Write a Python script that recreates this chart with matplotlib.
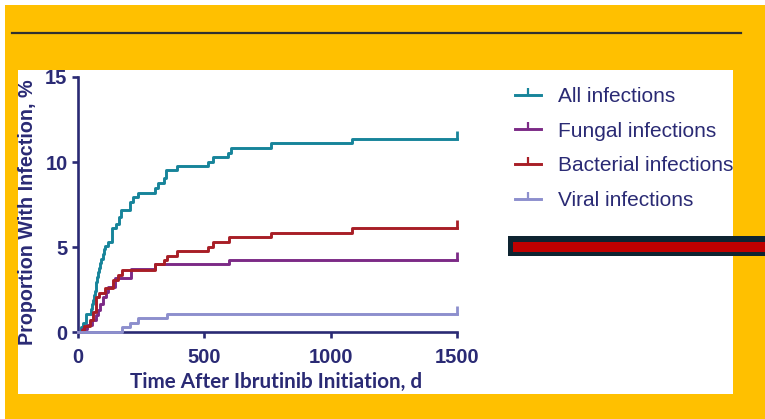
import matplotlib
matplotlib.use("Agg")
import matplotlib.pyplot as plt
from matplotlib.patches import Rectangle
from matplotlib.lines import Line2D

# ---------------- data ----------------
all_t = [0, 10, 20, 30, 50, 55, 60, 63, 66, 70, 73, 77, 80, 84, 88, 92, 97, 102, 108, 118, 135,
         151, 162, 171, 204, 217, 237, 303, 316, 342, 349, 391, 513, 533, 592, 605, 762, 1083, 1500]
all_v = [0, 0.27, 0.54, 1.04, 1.35, 1.62, 1.89, 2.16, 2.43, 2.70, 2.97, 3.24, 3.51, 3.78, 4.05, 4.32,
         4.59, 4.86, 5.05, 5.3, 6.1, 6.37, 6.76, 7.16, 7.65, 7.95, 8.2, 8.45, 8.75, 9.05, 9.5, 9.75,
         10.0, 10.3, 10.55, 10.8, 11.1, 11.35, 11.35]

fungal_t = [0, 15, 34, 54, 70, 80, 87, 98, 110, 120, 146, 210, 305, 598, 1500]
fungal_v = [0, 0.2, 0.41, 0.7, 1.0, 1.3, 1.65, 2.06, 2.35, 2.65, 3.15, 3.7, 3.98, 4.24, 4.24]

bacterial_t = [0, 15, 23, 47, 61, 70, 83, 107, 140, 160, 173, 305, 342, 351, 390, 513, 533, 599, 762, 1083, 1500]
bacterial_v = [0, 0.1, 0.35, 0.7, 1.2, 2.08, 2.3, 2.57, 3.06, 3.35, 3.67, 3.98, 4.25, 4.5, 4.76,
               5.0, 5.3, 5.6, 5.85, 6.1, 6.1]

viral_t = [0, 173, 205, 239, 351, 1500]
viral_v = [0, 0.27, 0.54, 0.81, 1.08, 1.08]

series_labels = ["All infections", "Fungal infections", "Bacterial infections", "Viral infections"]
series_colors = ["#17849a", "#7c2a86", "#a81e26", "#8d8fcd"]

x_ticks = [0, 500, 1000, 1500]
y_ticks = [0, 5, 10, 15]
x_label = "Time After Ibrutinib Initiation, d"
y_label = "Proportion With Infection, %"

NAVY = "#2a2a74"
W, H = 765, 419

fig = plt.figure(figsize=(W / 100, H / 100), dpi=100)
fig.patch.set_facecolor("white")


def rect_px(x0, y0, x1, y1, color, z):
    fig.add_artist(Rectangle((x0 / W, 1 - y1 / H), (x1 - x0) / W, (y1 - y0) / H,
                             transform=fig.transFigure, facecolor=color, edgecolor="none",
                             zorder=z))


# background decorations
rect_px(5, 5, W, H, "#ffc000", -10)
rect_px(18, 70, 733, 394, "white", -9)
fig.add_artist(Line2D([12 / W, 741 / W], [1 - 33 / H, 1 - 33 / H], transform=fig.transFigure,
                      color="#303030", lw=1.6, zorder=-8))
rect_px(508, 236, W, 256, "#0e2431", 5)
rect_px(513, 242, W, 252, "#c00000", 6)

# axes
ax = fig.add_axes([78 / W, 1 - 332 / H, 379 / W, 255 / H])
ax.set_facecolor("none")

data = [(all_t, all_v), (fungal_t, fungal_v), (bacterial_t, bacterial_v), (viral_t, viral_v)]
handles = []
for (t, v), c, lab in zip(data, series_colors, series_labels):
    ax.step(t, v, where="post", color=c, lw=2.1, clip_on=False, zorder=4)
    ax.plot([t[-1]], [v[-1]], marker=2, color=c, markersize=5.5, mew=2.0, clip_on=False, zorder=4)
    handles.append(Line2D([0, 0.5, 1], [0, 0, 0], color=c, lw=2.1, marker=2, markersize=5,
                          mew=1.6, markevery=[1], label=lab))

ax.set_xlim(0, 1500)
ax.set_ylim(0, 15)
ax.set_xticks(x_ticks)
ax.set_yticks(y_ticks)
for s in ["top", "right"]:
    ax.spines[s].set_visible(False)
for s in ["left", "bottom"]:
    ax.spines[s].set_color(NAVY)
    ax.spines[s].set_linewidth(1.9)
ax.tick_params(axis="both", colors=NAVY, width=1.9, length=4.5, labelsize=14.5)
ax.tick_params(axis="x", pad=7)
ax.tick_params(axis="y", pad=3)
for lbl in ax.get_xticklabels() + ax.get_yticklabels():
    lbl.set_fontfamily("Liberation Sans")
    lbl.set_fontweight("bold")

fig.text(28 / W, 1 - 212 / H, y_label, rotation=90, ha="center", va="center",
         fontsize=14.2, fontweight="bold", color=NAVY, family="Liberation Sans")
fig.text(276 / W, 1 - 388 / H, x_label, ha="center", va="baseline",
         fontsize=14.9, fontweight="bold", color=NAVY, family="Lato")

leg = fig.legend(handles=handles, loc="upper left", bbox_to_anchor=(515 / W, 1 - 87 / H),
                 frameon=False, prop={"family": "Liberation Sans", "size": 15},
                 handlelength=1.25, handletextpad=0.8, labelspacing=0.75, borderpad=0,
                 borderaxespad=0)
for txt in leg.get_texts():
    txt.set_color(NAVY)

fig.savefig("out.png", dpi=100)
